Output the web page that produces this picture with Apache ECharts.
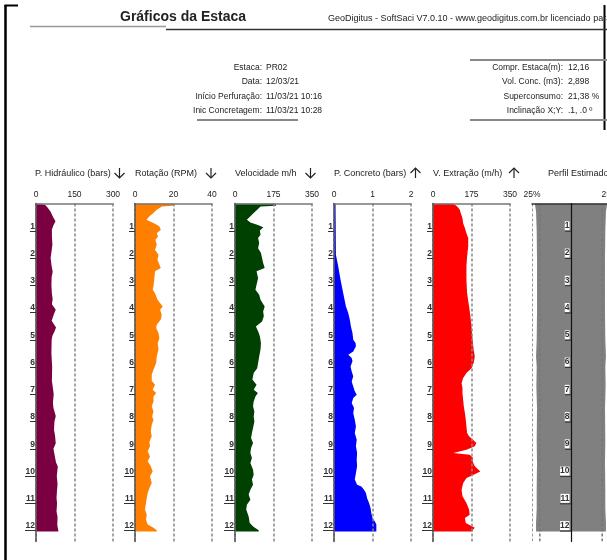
<!DOCTYPE html>
<html><head><meta charset="utf-8">
<script src="https://cdn.jsdelivr.net/npm/echarts@6/dist/echarts.min.js"></script>
<style>html,body{margin:0;padding:0;background:#fff}#c{width:607px;height:560px}</style>
</head><body><div id="c"></div>
<script>
// ---------------- DATA ----------------
const depthLabels = [1,2,3,4,5,6,7,8,9,10,11,12];
const depthHidraulico = [0,0.05,0.15,0.3,0.5,0.65,0.8,0.95,1.2,1.5,1.8,2.0,2.3,2.5,2.7,3.0,3.3,3.5,3.7,3.9,4.05,4.3,4.55,4.7,4.85,5.0,5.5,6.0,6.5,7.0,7.3,7.5,7.8,8.0,8.3,8.5,8.8,9.0,9.3,9.5,9.65,10.0,10.3,10.5,10.8,11.0,11.3,11.5,11.8,12.0,12.03];
const valHidraulico = [10,35,45,57,67,76,68,62,62,64,60,57,61,65,61,60,62,65,62,77,70,61,78,72,64,61,60,63,62,69,66,68,77,72,70,74,77,68,74,78,85,81,84,82,80,82,80,84,83,87,87];

const depthRotacao = [0,0.08,0.11,0.23,0.35,0.47,0.6,0.66,0.74,0.84,0.96,1.09,1.21,1.33,1.51,1.7,1.88,2.06,2.25,2.37,2.49,2.8,3.04,3.16,3.29,3.53,3.78,3.9,4.08,4.26,4.45,4.57,4.75,4.94,5.12,5.36,5.61,5.85,6.1,6.28,6.5,6.65,6.83,6.95,7.08,7.26,7.44,7.63,7.81,7.93,8.12,8.36,8.54,8.73,8.91,9.09,9.28,9.46,9.64,9.83,10.01,10.25,10.44,10.62,10.8,10.99,11.23,11.42,11.6,11.78,11.9,11.99,12.03];
const valRotacao = [20,20,14,11.3,9.6,7.5,6,7.8,10.4,12.7,13.4,11.3,12,10.6,11.3,10.4,12.2,11.7,12.7,13.4,10.4,10,9.6,9.2,10.4,11.7,14.4,13,13.9,13.4,11.3,11,12.2,12.7,11.8,12.2,11.3,11,9.6,8.7,8.7,10.4,9.2,11,9.6,9.6,8.7,9.6,8.9,9.6,8.7,8.2,8.7,7.5,7.8,6.6,7.8,6.6,8.2,9.2,7.8,8.7,7.5,6.6,6.1,5.7,5.2,6.1,5.7,6.6,9.6,11.3,11.3];

const depthVelocidade = [0,0.08,0.11,0.23,0.35,0.47,0.6,0.7,0.78,0.87,0.99,1.15,1.27,1.45,1.64,1.82,2.0,2.18,2.37,2.49,2.74,2.98,3.16,3.35,3.53,3.78,3.96,4.14,4.33,4.51,4.69,4.87,5.12,5.36,5.61,5.85,6.04,6.22,6.46,6.65,6.83,6.95,7.08,7.26,7.44,7.63,7.81,8.0,8.24,8.42,8.6,8.79,8.97,9.15,9.34,9.52,9.77,9.95,10.13,10.32,10.5,10.68,10.87,11.05,11.23,11.48,11.72,11.87,11.99,12.03];
const valVelocidade = [186,186,116,101,85,70,54,70,101,129,113,116,105,110,105,118,123,128,135,98,105,98,93,110,116,135,128,131,123,95,105,113,118,116,110,105,101,85,79,98,85,104,93,85,82,88,85,88,82,77,73,82,73,70,77,70,82,85,77,82,70,62,70,54,51,62,67,85,108,108];

const depthConcreto = [0,1.88,2.31,2.8,3.29,3.78,4.02,4.26,4.51,4.75,5.0,5.12,5.24,5.43,5.55,5.67,5.79,5.98,6.16,6.34,6.53,6.71,6.89,7.02,7.14,7.32,7.5,7.69,7.93,8.18,8.42,8.67,8.91,9.15,9.4,9.64,9.89,10.13,10.32,10.38,10.5,10.62,10.81,10.99,11.17,11.36,11.54,11.66,11.78,11.97,12.03];
const valConcreto = [0.04,0.05,0.11,0.17,0.24,0.31,0.37,0.41,0.44,0.48,0.5,0.56,0.57,0.5,0.37,0.46,0.48,0.43,0.46,0.5,0.46,0.5,0.54,0.59,0.5,0.46,0.52,0.5,0.54,0.57,0.54,0.59,0.57,0.6,0.59,0.6,0.57,0.54,0.6,0.71,0.78,0.83,0.86,0.91,0.95,0.97,1.0,1.06,1.1,1.1,1.1];

const depthExtracao = [0,0.05,0.11,0.23,0.35,0.54,0.72,0.9,1.09,1.27,1.58,1.94,2.31,2.8,3.29,3.78,4.14,4.51,5.0,5.37,5.61,5.85,6.04,6.22,6.4,6.59,6.77,6.95,7.2,7.44,7.69,7.93,8.18,8.42,8.54,8.67,8.79,8.91,9.03,9.15,9.22,9.34,9.46,9.64,9.83,9.95,10.07,10.26,10.5,10.74,10.99,11.23,11.42,11.54,11.72,11.9,11.99,12.03];
const valExtracao = [85,100,110,122,126,134,137,145,152,160,160,155,152,152,155,164,170,175,180,185,190,185,175,152,137,130,134,134,137,140,145,149,152,155,164,182,197,190,152,93,167,182,180,190,215,185,152,137,130,134,152,164,167,145,149,190,180,180];

const depthPerfil = [0,0.3,1,2,3,4,5,5.6,6,6.7,7.5,8.7,9.5,10.5,11.2,11.7,12.03];
const radPerfil = [1.16,1.12,1.1,1.09,1.09,1.09,1.1,1.12,1.1,1.11,1.09,1.1,1.09,1.1,1.1,1.12,1.12];
const perfilGuides = [-1.25,-1,1,1.25];

const panelTitles = ['P. Hidráulico (bars)','Rotação (RPM)','Velocidade m/h','P. Concreto (bars)','V. Extração (m/h)','Perfil Estimado'];
const panelMax = [300,40,350,2,350];

const infoLeftLabels = ['Estaca:','Data:','Início Perfuração:','Inic Concretagem:'];
const infoLeftValues = ['PR02','12/03/21','11/03/21 10:16','11/03/21 10:28'];
const infoRightLabels = ['Compr. Estaca(m):','Vol. Conc. (m3):','Superconsumo:','Inclinação X;Y:'];
const infoRightValues = ['12,16','2,898','21,38 %','.1, .0 º'];

// ---------------- LAYOUT ----------------
const FONT = '"Liberation Sans", Arial, sans-serif';
const panels = [
  {depth: depthHidraulico, vals: valHidraulico, color:'#7b0041', left:36, arrowX:119.5, up:false},
  {depth: depthRotacao, vals: valRotacao, color:'#ff8000', left:135, arrowX:211, up:false},
  {depth: depthVelocidade, vals: valVelocidade, color:'#004000', left:235, arrowX:310.5, up:false},
  {depth: depthConcreto, vals: valConcreto, color:'#0000ff', left:334, arrowX:415.5, up:true},
  {depth: depthExtracao, vals: valExtracao, color:'#ff0000', left:433, arrowX:514, up:true}
];
const headerX = [35,135,235,334,433,548];
const GTOP = 203.5, GH = 338, YMAX = 12.4;

const grids = [], xAxes = [], yAxes = [], series = [];
function addY(gi, showLabels){
  yAxes.push({gridIndex:gi, type:'value', inverse:true, min:0, max:YMAX, interval:1, position:'left', z:6,
    axisLine:{show:true, onZero:true, lineStyle:{color: gi===5?'#111':'#555', width: gi===5?1.2:1.5}},
    axisTick:{show:showLabels, customValues:[1,2,3,4,5,6,7,8,9], length:6, lineStyle:{color:'#333', width:1}},
    axisLabel:{show:showLabels, customValues:depthLabels, fontSize:8.5, fontWeight:'bold', color:'#333', fontFamily:FONT, margin:1, verticalAlign:'bottom'},
    splitLine:{show:false}});
  yAxes.push({gridIndex:gi, type:'value', inverse:true, min:0, max:YMAX, interval:1, position:'left', z:6,
    axisLine:{show:false, onZero:false},
    axisTick:{show:showLabels, customValues:[10,11,12], length:11, lineStyle:{color:'#333', width:1}},
    axisLabel:{show:false}, splitLine:{show:false}});
}
panels.forEach((p, i) => {
  grids.push({left:p.left, top:GTOP, width:77, height:GH, outerBoundsMode:'none'});
  const m = panelMax[i];
  xAxes.push({gridIndex:i, type:'value', position:'top', min:0, max:m, interval:m/2, z:5,
    axisLine:{show:true, onZero:false, lineStyle:{color:'#777', width:1.5}},
    axisTick:{show:false},
    axisLabel:{fontSize:8.5, color:'#222', fontFamily:FONT, margin:4},
    splitLine:{show:true, lineStyle:{color:'#888', width:1.5, type:[3,2]}}});
  addY(i, true);
  series.push({type:'custom', xAxisIndex:i, yAxisIndex:i*2, z:2, clip:true,
    data: p.depth.map((d, k) => [p.vals[k], d]),
    renderItem: (params, api) => {
      if (params.dataIndex !== 0) return null;
      const pts = [api.coord([0, p.depth[0]])];
      p.depth.forEach((d, k) => pts.push(api.coord([p.vals[k], d])));
      pts.push(api.coord([0, p.depth[p.depth.length-1]]));
      return {type:'polygon', shape:{points:pts}, style:{fill:p.color}};
    }});
});
// perfil panel
grids.push({left:532, top:GTOP, width:78, height:GH, outerBoundsMode:'none'});
xAxes.push({gridIndex:5, type:'value', position:'top', min:-1.25, max:1.25, z:5,
  axisLine:{show:true, onZero:false, lineStyle:{color:'#333', width:1.5}},
  axisTick:{show:false},
  axisLabel:{customValues:[-1.25,1.25], formatter:()=> '25%', fontSize:8.5, color:'#222', fontFamily:FONT, margin:4},
  splitLine:{show:false}});
addY(5, false);
series.push({type:'custom', xAxisIndex:5, yAxisIndex:10, z:2, clip:true,
  data: depthPerfil.map((d,k)=>[radPerfil[k], d]),
  renderItem: (params, api) => {
    if (params.dataIndex !== 0) return null;
    const pts = [];
    depthPerfil.forEach((d,k)=>pts.push(api.coord([-radPerfil[k], d])));
    for (let k = depthPerfil.length-1; k >= 0; k--) pts.push(api.coord([radPerfil[k], depthPerfil[k]]));
    return {type:'polygon', shape:{points:pts}, style:{fill:'#808080'}};
  }});
series.push({type:'custom', xAxisIndex:5, yAxisIndex:10, z:4, clip:true,
  data: perfilGuides.map(v=>[v, 0]),
  renderItem: (params, api) => {
    const v = api.value(0);
    const a = api.coord([v, 0]), b = api.coord([v, YMAX]);
    return {type:'line', shape:{x1:a[0], y1:a[1], x2:b[0], y2:b[1]}, style:{stroke:'#777', lineWidth:1.5, lineDash:[3,2]}};
  }});
series.push({type:'custom', xAxisIndex:5, yAxisIndex:10, z:8, clip:false,
  data: depthLabels.map(d=>[0, d]),
  renderItem: (params, api) => {
    const d = api.value(1);
    const c = api.coord([0, d]);
    const w = d >= 10 ? 11 : 6;
    return {type:'group', children:[
      {type:'text', x:c[0]-1.5, y:c[1]-0.5, style:{text:String(d), align:'right', verticalAlign:'bottom', font:'bold 8.5px '+FONT, fill:'#333', backgroundColor:'#fff'}},
      {type:'line', shape:{x1:c[0]-w, y1:c[1]+0.5, x2:c[0], y2:c[1]+0.5}, style:{stroke:'#333', lineWidth:1}}
    ]};
  }});

// ---------------- GRAPHICS ----------------
const g = [];
function txt(x, y, t, opt){ g.push(Object.assign({type:'text', x, y, style:Object.assign({text:t, font:'9px '+FONT, fill:'#222', align:'left', verticalAlign:'middle'}, opt||{})})); }
function ln(x1,y1,x2,y2,stroke,w,dash){ g.push({type:'line', shape:{x1,y1,x2,y2}, style:{stroke, lineWidth:w, lineDash:dash||null}}); }
ln(5.5,5,5.5,560,'#000',2.5);
ln(4.5,5.5,18,5.5,'#000',2);
ln(604.5,5,604.5,130,'#000',2);
txt(120, 17.5, 'Gráficos da Estaca', {font:'bold 14px '+FONT});
txt(328, 18.5, 'GeoDigitus - SoftSaci V7.0.10 - www.geodigitus.com.br licenciado para', {font:'9px '+FONT});
ln(30,26.5,166,26.5,'#999',1.5);
ln(166,29.5,607,29.5,'#333',1.5);
const rowsY = [68,82,97,111];
infoLeftLabels.forEach((l,i)=>{ txt(262, rowsY[i], l, {align:'right', font:'8.5px '+FONT}); txt(266, rowsY[i], infoLeftValues[i], {font:'8.5px '+FONT}); });
ln(197,120,298,120,'#888',2);
infoRightLabels.forEach((l,i)=>{ txt(563, rowsY[i], l, {align:'right', font:'8.5px '+FONT}); txt(568, rowsY[i], infoRightValues[i], {font:'8.5px '+FONT}); });
ln(470,60,607,60,'#888',2);
ln(470,120,607,120,'#888',2);
panelTitles.forEach((t,i)=> txt(headerX[i], 173.5, t, {font:'9px '+FONT}));
panels.forEach(p => {
  const x = p.arrowX, y1 = 168, y2 = 178;
  ln(x, y1, x, y2, '#222', 1.2);
  const tip = p.up ? y1 : y2, back = p.up ? y1+5 : y2-5;
  g.push({type:'polyline', shape:{points:[[x-5,back],[x,tip],[x+5,back]]}, style:{stroke:'#222', lineWidth:1.2, fill:null}});
});

const chart = echarts.init(document.getElementById('c'), null, {renderer:'canvas'});
chart.setOption({animation:false, backgroundColor:'#fff', grid:grids, xAxis:xAxes, yAxis:yAxes, series, graphic:g});
</script>
</body></html>
